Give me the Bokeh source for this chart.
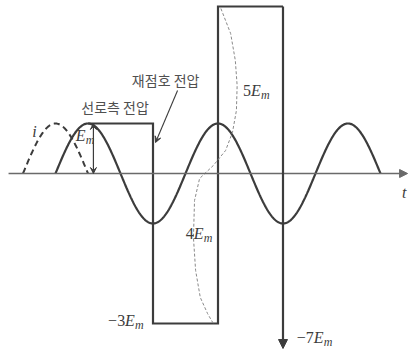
import numpy as np
from bokeh.plotting import figure
from bokeh.models import Range1d, Label, Arrow, NormalHead, VeeHead
from bokeh.embed import file_html
from bokeh.resources import INLINE

# ---- data (angles in electrical degrees, voltages in units of Em as drawn) ----
sine_amplitude = 1.0
sine_start_deg, sine_end_deg = 0, 900
current_amplitude = 1.0
current_start_deg, current_end_deg = -90, 90

switch_angles = [90, 270, 450, 630]          # breaker open / restrike instants
rect_levels = [1.0, -3.0, 3.34, -3.5]        # drawn heights of Em, -3Em, 5Em, -7Em steps

transient_y = [3.3, 2.8, 2.26, 1.76, 1.26, 0.82, 0.46, 0.16, -0.1, -0.54,
               -1.28, -1.94, -2.48, -2.8, -3.0]
transient_x = [458, 485, 498, 503, 501, 490, 471, 437, 399, 385,
               382, 388, 401, 421, 437]

em_arrow_x = 105

INK = "#3c3c3c"
GRAY = "#6a6a6a"

p = figure(width=409, height=351, x_range=Range1d(-152.3, 980.3),
           y_range=Range1d(-3.56, 3.46), output_backend="svg",
           toolbar_location=None, min_border=0,
           x_axis_location=None, y_axis_location=None)
p.grid.visible = False
p.outline_line_color = None
p.background_fill_color = "white"

# time axis
p.add_layout(Arrow(x_start=-130, y_start=0, x_end=975, y_end=0,
                   line_color=GRAY, line_width=1.4,
                   end=NormalHead(size=8, fill_color=GRAY, line_color=GRAY)))

# line-side voltage (sine)
th = np.linspace(sine_start_deg, sine_end_deg, 600)
p.line(th, sine_amplitude * np.sin(np.radians(th)), line_color=INK, line_width=2.2)

# current i (dashed, leading)
tc = np.linspace(current_start_deg, current_end_deg, 120)
p.line(tc, current_amplitude * np.cos(np.radians(tc)), line_color=INK,
       line_width=2.0, line_dash="6 4")

# restrike voltage staircase
rx = [switch_angles[0], switch_angles[1], switch_angles[1], switch_angles[2],
      switch_angles[2], switch_angles[3]]
ry = [rect_levels[0], rect_levels[0], rect_levels[1], rect_levels[1],
      rect_levels[2], rect_levels[2]]
p.line(rx, ry, line_color=INK, line_width=2.2, line_join="miter")
p.add_layout(Arrow(x_start=switch_angles[3], y_start=rect_levels[2],
                   x_end=switch_angles[3], y_end=rect_levels[3],
                   line_color=INK, line_width=2.2,
                   end=NormalHead(size=9, fill_color=INK, line_color=INK)))

# transient oscillation (thin dashed)
p.line(transient_x, transient_y, line_color="#8a8a8a", line_width=1.0, line_dash="3 2")

# Em double arrow
p.add_layout(Arrow(x_start=em_arrow_x, y_start=0.0, x_end=em_arrow_x, y_end=sine_amplitude,
                   line_color=INK, line_width=1.2,
                   start=VeeHead(size=6, fill_color=INK, line_color=INK, line_width=1),
                   end=VeeHead(size=6, fill_color=INK, line_color=INK, line_width=1)))

# pointer for 재점호 전압
p.add_layout(Arrow(x_start=338, y_start=1.66, x_end=277, y_end=0.62,
                   line_color=INK, line_width=1.1,
                   end=VeeHead(size=6, fill_color=INK, line_color=INK, line_width=1)))

KFONT = "Noto Sans CJK KR"
p.add_layout(Label(x=305, y=1.88, text="재점호 전압", text_font=KFONT, text_font_size="14px",
                   text_color="#505050", text_align="center", text_baseline="middle"))
p.add_layout(Label(x=165, y=1.34, text="선로측 전압", text_font=KFONT, text_font_size="14px",
                   text_color="#505050", text_align="center", text_baseline="middle"))

SERIF = "Liberation Serif"


def em_label(x, y, prefix, align="left", size=16):
    pre_w = 0.0
    for ch in prefix:
        pre_w += 9.0 if ch == "−" else 8.0
    e_w = 10.0
    m_w = 8.5
    total = pre_w + e_w + m_w
    start = 0.0 if align == "left" else -total
    if prefix:
        p.add_layout(Label(x=x, y=y, x_offset=start, text=prefix, text_font=SERIF,
                           text_font_size=f"{size}px", text_color=INK,
                           text_align="left", text_baseline="middle"))
    p.add_layout(Label(x=x, y=y, x_offset=start + pre_w, text="E", text_font=SERIF,
                       text_font_style="italic", text_font_size=f"{size}px", text_color=INK,
                       text_align="left", text_baseline="middle"))
    p.add_layout(Label(x=x, y=y, x_offset=start + pre_w + e_w, y_offset=-4, text="m",
                       text_font=SERIF, text_font_style="italic",
                       text_font_size=f"{size - 4}px", text_color=INK,
                       text_align="left", text_baseline="middle"))


em_label(56, 0.76, "", "left", 16)
em_label(519, 1.66, "5", "left", 16)
em_label(361, -1.2, "4", "left", 16)
em_label(244, -2.94, "−3", "right", 16)
em_label(668, -3.28, "−7", "left", 16)

p.add_layout(Label(x=-58, y=0.84, text="i", text_font=SERIF, text_font_style="italic",
                   text_font_size="16px", text_color=INK, text_align="center",
                   text_baseline="middle"))
p.add_layout(Label(x=966, y=-0.38, text="t", text_font=SERIF, text_font_style="italic",
                   text_font_size="16px", text_color=INK, text_align="center",
                   text_baseline="middle"))

open("out.html", "w").write(file_html(p, INLINE))
